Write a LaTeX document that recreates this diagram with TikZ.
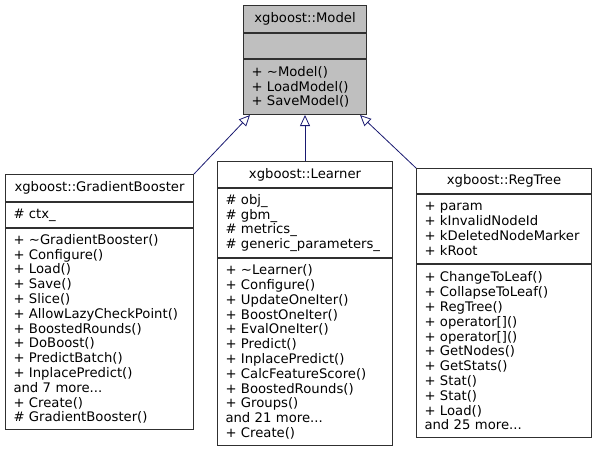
\documentclass[tikz,border=0pt]{standalone}
\usepackage{fontspec}
\setmainfont{DejaVu Sans}
\usetikzlibrary{arrows.meta, positioning}
\definecolor{dxEdge}{RGB}{25,25,112}
\definecolor{dxLine}{RGB}{48,48,48}
\definecolor{dxBase}{RGB}{191,191,191}

\begin{document}
\begin{tikzpicture}[x=1pt, y=-1pt,
    font=\fontsize{13.2}{14.8}\selectfont,
    sect/.style={draw=dxLine, line width=1pt, fill=white, inner xsep=8pt,
                 inner ysep=0pt, text width=#1, align=left, anchor=north},
    cls/.style={sect=#1, align=center, minimum height=26pt},
    arr/.style={-{Triangle[open, length=11pt, width=10pt]}, line width=0.8pt, draw=dxEdge}]
\useasboundingbox (0,0) rectangle (596,448);

% BASE CLASS
\node[cls=107pt, fill=dxBase, minimum height=27pt, anchor=north west] (model) at (243,5)
   {xgboost::Model};
\node[sect=107pt, fill=dxBase, minimum height=25pt, below=0pt of model] (modelattr) {};
\node[sect=107pt, fill=dxBase, minimum height=55pt, below=0pt of modelattr] (modelops)
   {+ \textasciitilde Model()\\+ LoadModel()\\+ SaveModel()};

% DERIVED 1
\node[cls=172pt, minimum height=27pt, anchor=north west] (gbooster) at (5,174)
   {xgboost::GradientBooster};
\node[sect=172pt, minimum height=25pt, below=0pt of gbooster] (gboosterattr) {\# ctx\_};
\node[sect=172pt, minimum height=201pt, below=0pt of gboosterattr] (gboosterops)
   {+ \textasciitilde GradientBooster()\\+ Configure()\\+ Load()\\+ Save()\\+ Slice()\\
    + AllowLazyCheckPoint()\\+ BoostedRounds()\\+ DoBoost()\\+ PredictBatch()\\
    + InplacePredict()\\and 7 more...\\+ Create()\\\# GradientBooster()};

% DERIVED 2
\node[cls=159pt, anchor=north west] (learner) at (217,161)
   {xgboost::Learner};
\node[sect=159pt, minimum height=69pt, below=0pt of learner] (learnerattr)
   {\# obj\_\\\# gbm\_\\\# metrics\_\\\# generic\_parameters\_};
\node[sect=159pt, minimum height=187pt, below=0pt of learnerattr] (learnerops)
   {+ \textasciitilde Learner()\\+ Configure()\\+ UpdateOneIter()\\+ BoostOneIter()\\
    + EvalOneIter()\\+ Predict()\\+ InplacePredict()\\+ CalcFeatureScore()\\
    + BoostedRounds()\\+ Groups()\\and 21 more...\\+ Create()};

% DERIVED 3
\node[cls=159pt, minimum height=25pt, anchor=north west] (regtree) at (416,168)
   {xgboost::RegTree};
\node[sect=159pt, minimum height=69pt, below=0pt of regtree] (regtreeattr)
   {+ param\\+ kInvalidNodeId\\+ kDeletedNodeMarker\\+ kRoot};
\node[sect=159pt, minimum height=173pt, below=0pt of regtreeattr] (regtreeops)
   {+ ChangeToLeaf()\\+ CollapseToLeaf()\\+ RegTree()\\+ operator[]()\\+ operator[]()\\
    + GetNodes()\\+ GetStats()\\+ Stat()\\+ Stat()\\+ Load()\\and 25 more...};

% Inheritance
\draw[arr] (gbooster.north east) -- ([xshift=7pt]modelops.south west);
\draw[arr] (learner.north) -- (modelops.south);
\draw[arr] (regtree.north west) -- ([xshift=-7pt]modelops.south east);

\end{tikzpicture}
\end{document}
